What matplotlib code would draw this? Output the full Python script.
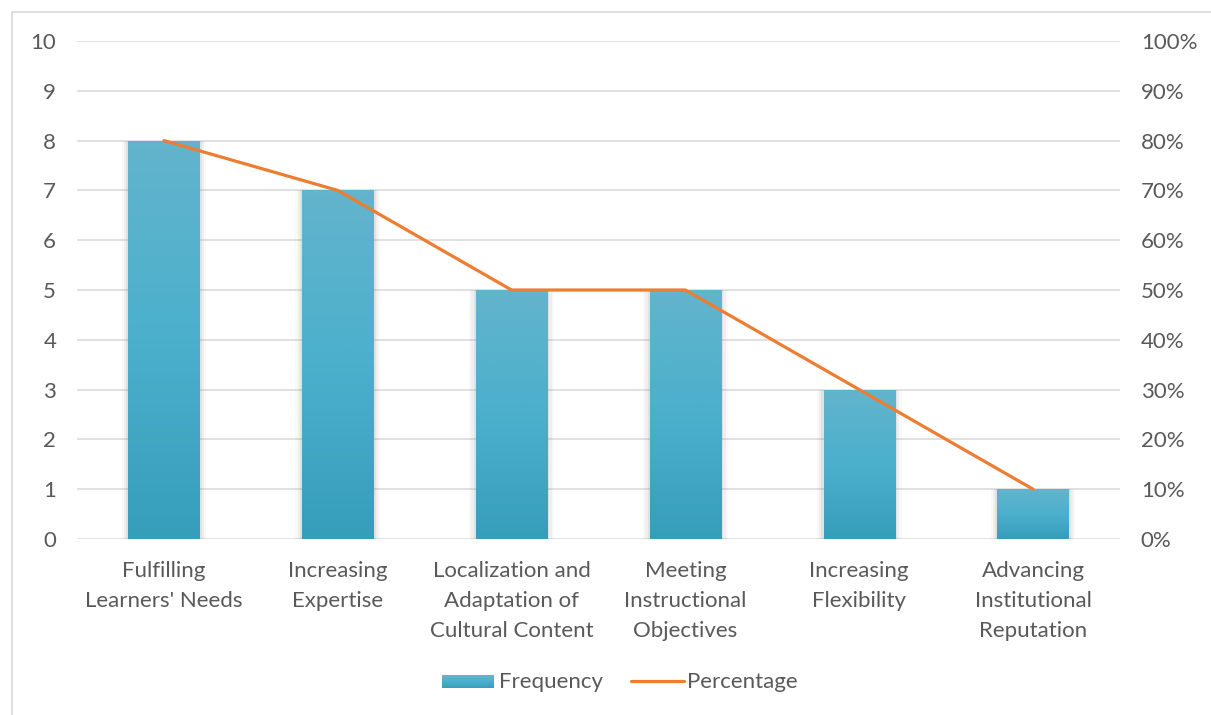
import numpy as np
import matplotlib
matplotlib.use("Agg")
import matplotlib.pyplot as plt
from matplotlib.patches import Rectangle
from matplotlib.colors import LinearSegmentedColormap

plt.rcParams['font.family'] = ['Lato', 'DejaVu Sans']

categories = ["Fulfilling\nLearners' Needs", "Increasing\nExpertise",
              "Localization and\nAdaptation of\nCultural Content",
              "Meeting\nInstructional\nObjectives", "Increasing\nFlexibility",
              "Advancing\nInstitutional\nReputation"]
frequency = [8, 7, 5, 5, 3, 1]
percentage = [0.80, 0.70, 0.50, 0.50, 0.30, 0.10]

text_col = '#595959'
grid_col = '#d9d9d9'
orange = '#ED7D31'
fs = 16

fig = plt.figure(figsize=(12.11, 7.15), dpi=100)
# outer chart border
fig.patches.append(Rectangle((12 / 1211, -0.01), 1.0, 1 - 12 / 715 + 0.01,
                             transform=fig.transFigure, fill=False,
                             edgecolor='#d9d9d9', linewidth=1.2))

ax = fig.add_axes([77 / 1211, 1 - 539 / 715, (1120 - 77) / 1211, (539 - 41) / 715])
ax2 = ax.twinx()

x = np.arange(len(categories))
width = 0.41
ax.set_xlim(-0.5, len(categories) - 0.5)
ax.set_ylim(0, 10)
ax2.set_ylim(0, 1)

ax.set_yticks(range(0, 11))
ax2.set_yticks(np.linspace(0, 1, 11))
ax2.set_yticklabels([f"{int(round(v * 100))}%" for v in np.linspace(0, 1, 11)])
ax.yaxis.grid(True, color=grid_col, linewidth=1.1)
ax.set_axisbelow(True)
for a in (ax, ax2):
    for s in a.spines.values():
        s.set_visible(False)
    a.tick_params(length=0, colors=text_col, labelsize=fs)
ax.tick_params(axis='y', pad=15)
ax2.tick_params(axis='y', pad=15)
ax.set_xticks(x)
ax.set_xticklabels(categories, linespacing=1.62, fontsize=fs)
ax.tick_params(axis='x', pad=16)

# gradient fill for the bars
cmap = LinearSegmentedColormap.from_list('bar', ['#369dba', '#4bb0cc', '#63b4cc'])
grad = np.linspace(0, 1, 256).reshape(-1, 1)
for xi, h in zip(x, frequency):
    # soft shadow
    for k, alpha in enumerate([0.12, 0.08, 0.04]):
        d = 0.013 * (k + 1)
        ax.add_patch(Rectangle((xi - width / 2 - d, -0.08 * (k + 1)), width + 2 * d,
                               h + 0.08 * (k + 1), facecolor='#7f7f7f',
                               edgecolor='none', alpha=alpha, zorder=1.5))
    bar = Rectangle((xi - width / 2, 0), width, h, facecolor='none', edgecolor='none', zorder=2)
    ax.add_patch(bar)
    im = ax.imshow(grad, cmap=cmap, aspect='auto', origin='lower',
                   extent=(xi - width / 2, xi + width / 2, 0, h), zorder=2)
    im.set_clip_path(bar)

ax2.plot(x, percentage, color=orange, linewidth=2.3, solid_capstyle='round', zorder=3)
ax.set_xlim(-0.5, len(categories) - 0.5)
ax.set_ylim(0, 10)

# legend
lx = fig.add_axes([0, 0, 1, 1], facecolor='none')
lx.set_axis_off()
lx.set_xlim(0, 1211)
lx.set_ylim(715, 0)
lx.imshow(grad, cmap=cmap, aspect='auto', origin='lower', extent=(442, 494, 688, 675))
lx.text(499, 682, "Frequency", color=text_col, fontsize=fs, va='center')
lx.plot([631, 684], [681, 681], color=orange, linewidth=2.3, solid_capstyle='round')
lx.text(687, 682, "Percentage", color=text_col, fontsize=fs, va='center')
lx.set_xlim(0, 1211)
lx.set_ylim(715, 0)

fig.savefig('out.png', dpi=100)
